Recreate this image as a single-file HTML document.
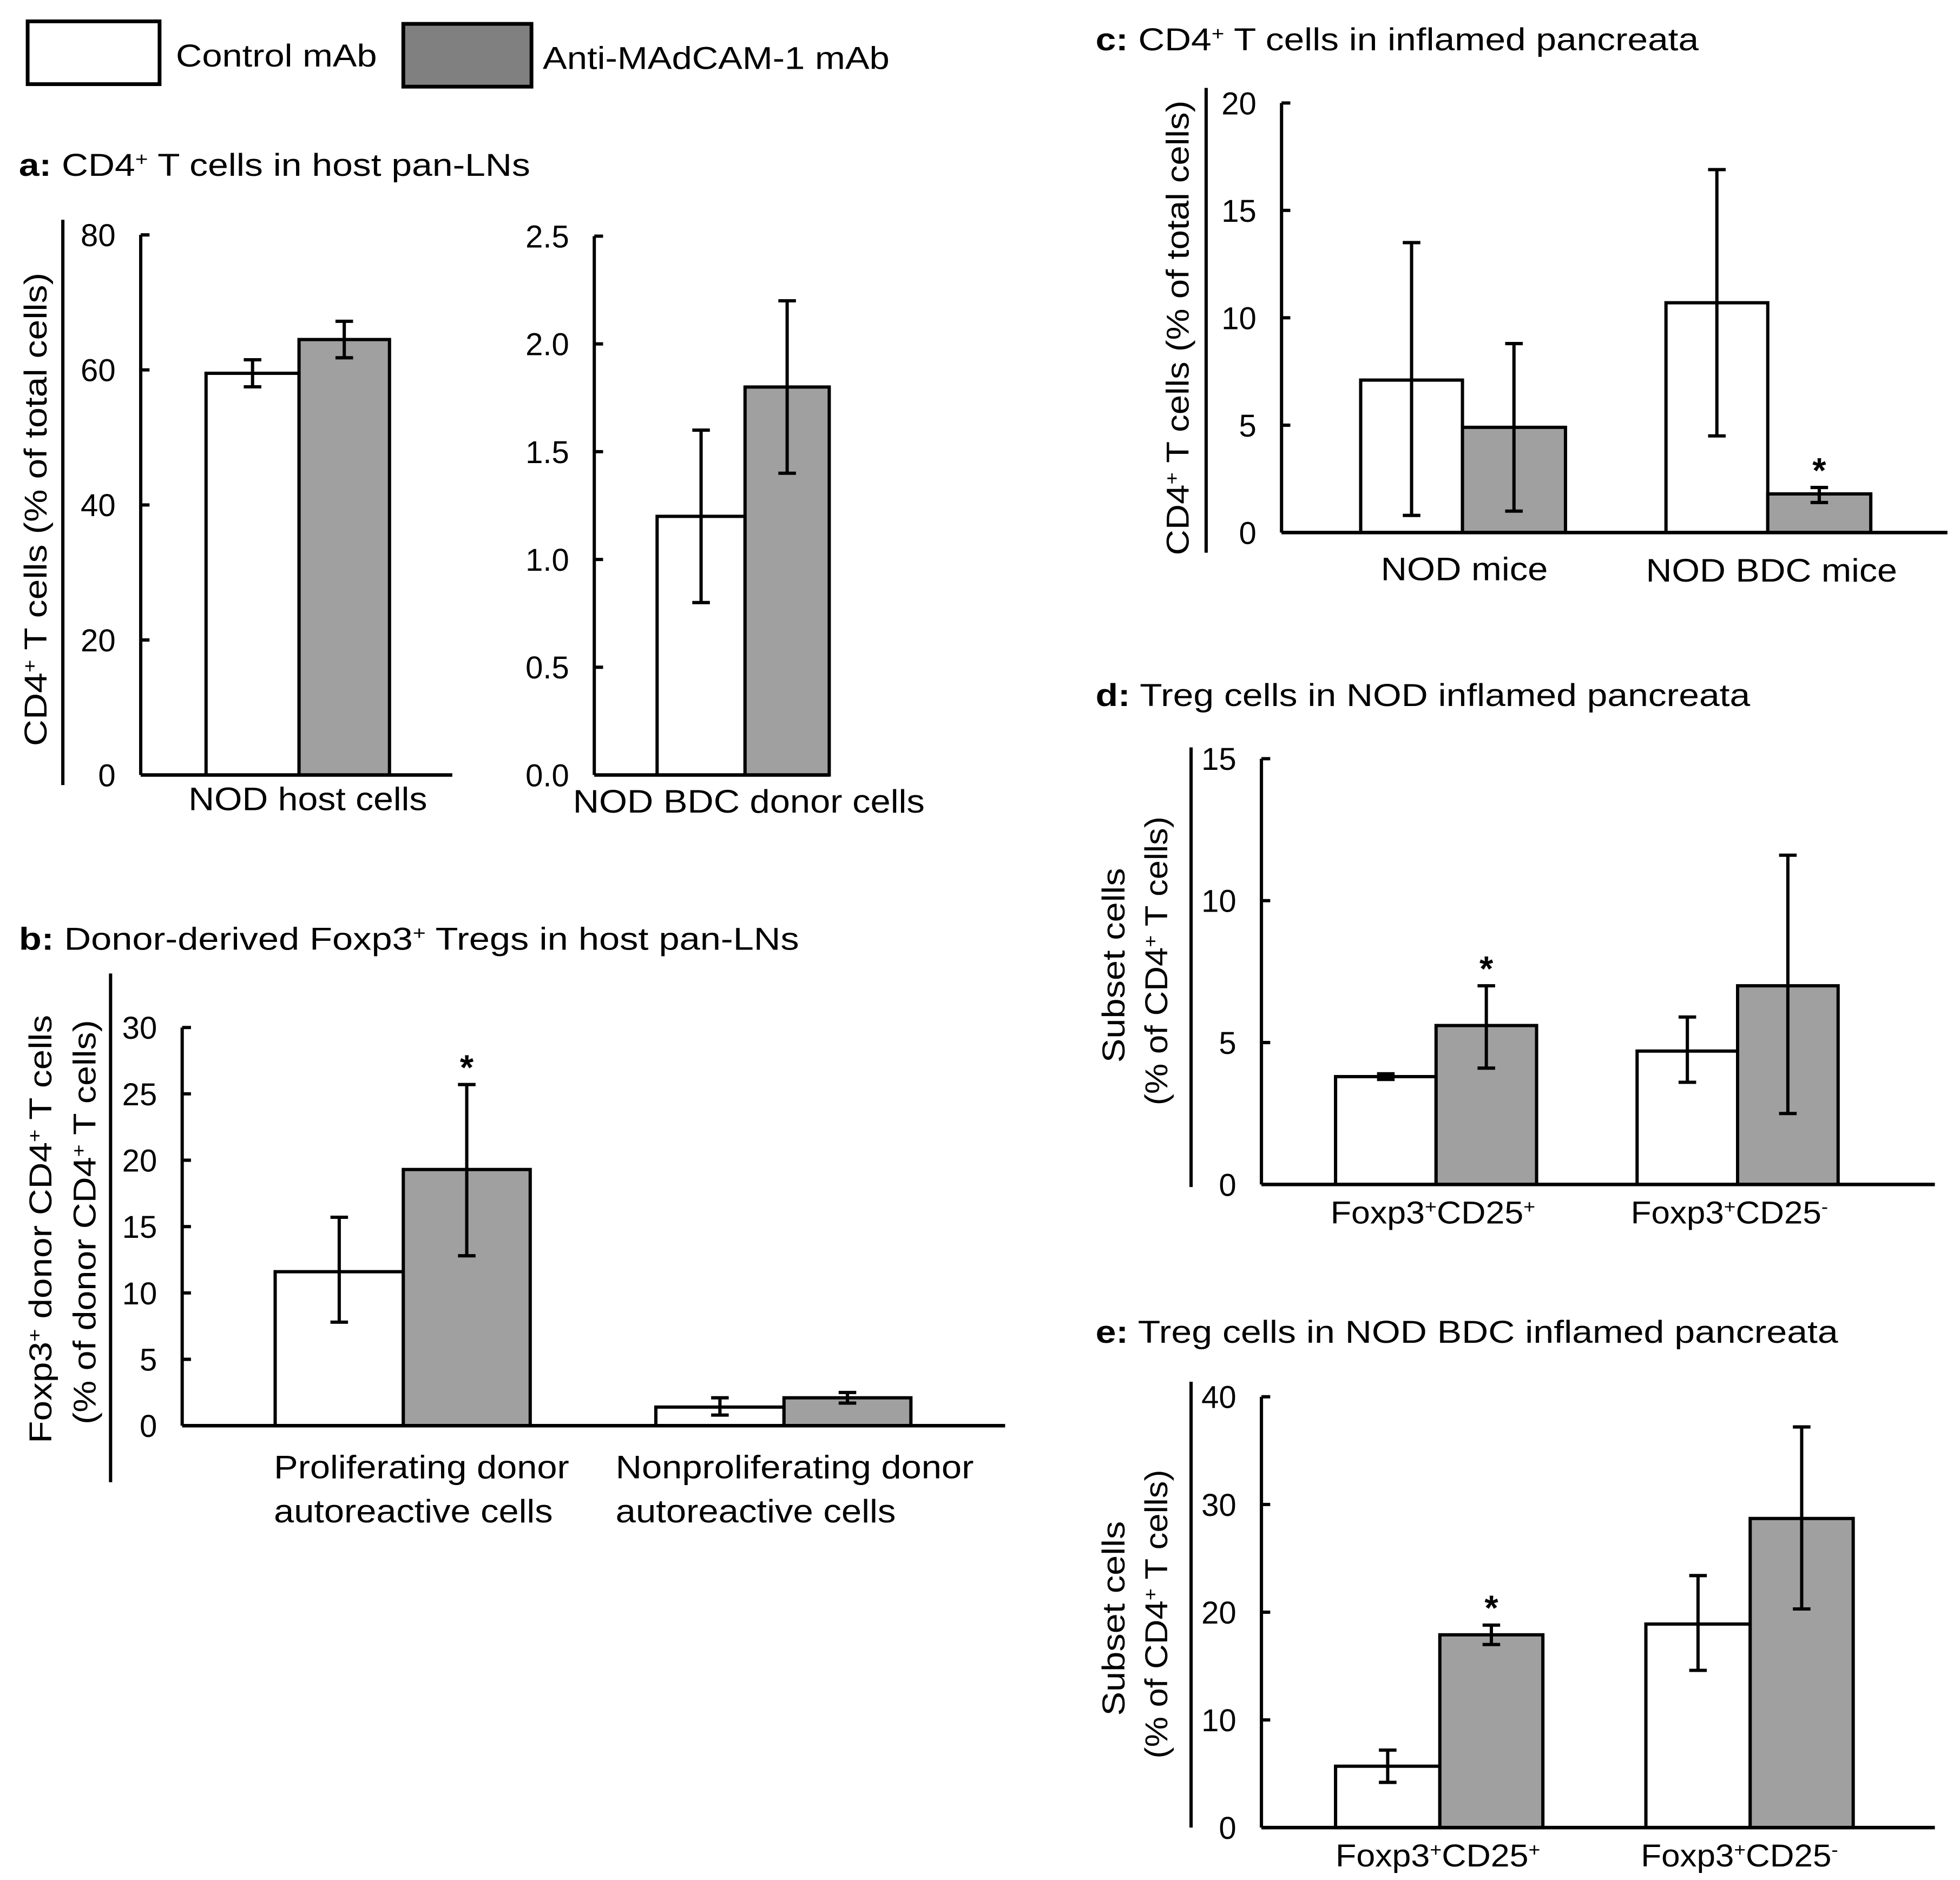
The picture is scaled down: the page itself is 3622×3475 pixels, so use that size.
<!DOCTYPE html>
<html><head><meta charset="utf-8"><style>
html,body{margin:0;padding:0;background:#fff}
svg{display:block}
text{font-family:"Liberation Sans",Arial,sans-serif;fill:#000}
</style></head><body>
<svg id="fig" xmlns="http://www.w3.org/2000/svg" width="3622" height="3475" viewBox="0 0 1560 1496.7">
<rect width="1560" height="1497" fill="#fff"/>
<g>
 <rect x="22" y="17" width="105" height="50" fill="#fff" stroke="#000" stroke-width="3"/>
 <text x="140" y="53" font-size="25" textLength="160" lengthAdjust="spacingAndGlyphs">Control mAb</text>
 <rect x="321" y="19" width="102" height="50" fill="#808080" stroke="#000" stroke-width="3"/>
 <text x="432" y="55" font-size="25" textLength="276" lengthAdjust="spacingAndGlyphs">Anti-MAdCAM-1 mAb</text>
</g>
<g id="plots"></g>
</svg>
<script>
// Panel a1
const a1Cats = ["NOD host cells"];
const a1Ctrl = [59.5], a1CtrlLo = [57.5], a1CtrlHi = [61.5];
const a1Anti = [64.5], a1AntiLo = [61.8], a1AntiHi = [67.2];
const a1Ticks = ["0","20","40","60","80"];
// Panel a2
const a2Cats = ["NOD BDC donor cells"];
const a2Ctrl = [1.2], a2CtrlLo = [0.8], a2CtrlHi = [1.6];
const a2Anti = [1.8], a2AntiLo = [1.4], a2AntiHi = [2.2];
const a2Ticks = ["0.0","0.5","1.0","1.5","2.0","2.5"];
// Panel b
const bCats = [["Proliferating donor","autoreactive cells"],["Nonproliferating donor","autoreactive cells"]];
const bCtrl = [11.6, 1.4], bCtrlLo = [7.8, 0.8], bCtrlHi = [15.7, 2.1];
const bAnti = [19.3, 2.1], bAntiLo = [12.8, 1.7], bAntiHi = [25.7, 2.5];
const bStar = [true, false];
const bTicks = ["0","5","10","15","20","25","30"];
// Panel c
const cCats = ["NOD mice","NOD BDC mice"];
const cCtrl = [7.1, 10.7], cCtrlLo = [0.8, 4.5], cCtrlHi = [13.5, 16.9];
const cAnti = [4.9, 1.8], cAntiLo = [1.0, 1.4], cAntiHi = [8.8, 2.1];
const cStar = [false, true];
const cTicks = ["0","5","10","15","20"];
// Panel d
const dCats = ["CD25+","CD25-"];
const dCtrl = [3.8, 4.7], dCtrlLo = [3.7, 3.6], dCtrlHi = [3.9, 5.9];
const dAnti = [5.6, 7.0], dAntiLo = [4.1, 2.5], dAntiHi = [7.0, 11.6];
const dStar = [true, false];
const dTicks = ["0","5","10","15"];
// Panel e
const eCats = ["CD25+","CD25-"];
const eCtrl = [5.7, 18.9], eCtrlLo = [4.2, 14.6], eCtrlHi = [7.2, 23.4];
const eAnti = [17.9, 28.7], eAntiLo = [17.0, 20.3], eAntiHi = [18.8, 37.2];
const eStar = [true, false];
const eTicks = ["0","10","20","30","40"];

const NS = "http://www.w3.org/2000/svg";
const root = document.getElementById("plots");
function mk(tag, attrs, parent){
  const el = document.createElementNS(NS, tag);
  for (const k in attrs) el.setAttribute(k, attrs[k]);
  (parent||root).appendChild(el);
  return el;
}
function addText(parent, x, y, str, size, opts){
  const t = mk("text", {x:x, y:y, "font-size":size}, parent);
  if (opts && opts.anchor) t.setAttribute("text-anchor", opts.anchor);
  if (opts && opts.len){ t.setAttribute("textLength", opts.len); t.setAttribute("lengthAdjust","spacingAndGlyphs"); }
  if (opts && opts.rot) t.setAttribute("transform", "rotate(-90 "+x+" "+y+")");
  t.textContent = str;
  return t;
}
function supText(parent, x, y, parts, size, opts){
  const t = mk("text", {x:x, y:y, "font-size":size}, parent);
  if (opts && opts.anchor) t.setAttribute("text-anchor", opts.anchor);
  if (opts && opts.len){ t.setAttribute("textLength", opts.len); t.setAttribute("lengthAdjust","spacingAndGlyphs"); }
  if (opts && opts.rot) t.setAttribute("transform", "rotate(-90 "+x+" "+y+")");
  parts.forEach(p=>{
    const s = document.createElementNS(NS,"tspan");
    s.textContent = p[0];
    if (p[1]==="b") s.setAttribute("font-weight","bold");
    if (p[1]==="sup"){ s.setAttribute("baseline-shift","super"); s.setAttribute("font-size", size*0.6); }
    t.appendChild(s);
  });
  return t;
}

function drawChart(cfg, name){
  const g = mk("g", {});
  
  
  const ymax = parseFloat(cfg.ticks[cfg.ticks.length-1]);
  const y = v => cfg.bottom - (v/ymax)*(cfg.bottom-cfg.top);
  const ax = mk("line", {x1:cfg.ax, y1:cfg.top, x2:cfg.ax, y2:cfg.bottom, stroke:"#000","stroke-width":2.6}, g);
  
  
  cfg.ticks.forEach(tk=>{
    const v = parseFloat(tk), yy = y(v);
    mk("line", {x1:cfg.ax, y1:yy, x2:cfg.ax+7, y2:yy, stroke:"#000","stroke-width":2.6}, g);
    const tl = addText(g, cfg.ax-20, yy+9, tk, 25, {anchor:"end"});
    
    
  });
  cfg.ctrl.forEach((v,i)=>{
    const x0 = cfg.groupX[i];
    const w1 = cfg.bw[0], w2 = cfg.bw[1];
    const r1 = mk("rect", {x:x0, y:y(v), width:w1, height:cfg.bottom-y(v), fill:"#fff", stroke:"#000","stroke-width":2.6}, g);
    
    
    const va = cfg.anti[i];
    const r2 = mk("rect", {x:x0+w1, y:y(va), width:w2, height:cfg.bottom-y(va), fill:"#a0a0a0", stroke:"#000","stroke-width":2.6}, g);
    
    
    [[x0+w1/2, cfg.clo[i], cfg.chi[i]],[x0+w1+w2/2, cfg.alo[i], cfg.ahi[i]]].forEach(e=>{
      const eg = mk("path", {d:"M"+e[0]+" "+y(e[1])+"V"+y(e[2])+"M"+(e[0]-7)+" "+y(e[1])+"H"+(e[0]+7)+"M"+(e[0]-7)+" "+y(e[2])+"H"+(e[0]+7), stroke:"#000","stroke-width":2.6, fill:"none"}, g);
      
      
    });
    if (cfg.star && cfg.star[i]){
      const st = addText(g, x0+w1+w2/2, y(cfg.ahi[i])-4, "*", 28, {anchor:"middle"});
      st.setAttribute("font-weight","bold");
      
      
    }
  });
  const xa = mk("line", {x1:cfg.ax, y1:cfg.bottom, x2:cfg.xend, y2:cfg.bottom, stroke:"#000","stroke-width":2.8}, g);
  
  
  return g;
}

function title(x,y,letter,parts,len,name){
  const t = supText(root, x, y, [[letter,"b"]].concat(parts), 25, {len:len});
  
  
}
title(15,140,"a:",[[" CD4",""],["+","sup"],[" T cells in host pan-LNs",""]],407,"panel-a-title");
title(15,756,"b:",[[" Donor-derived Foxp3",""],["+","sup"],[" Tregs in host pan-LNs",""]],621,"panel-b-title");
title(872,40,"c:",[[" CD4",""],["+","sup"],[" T cells in inflamed pancreata",""]],480,"panel-c-title");
title(872,562,"d:",[[" Treg cells in NOD inflamed pancreata",""]],521,"panel-d-title");
title(872,1069,"e:",[[" Treg cells in NOD BDC inflamed pancreata",""]],591,"panel-e-title");

drawChart({ax:112, top:187, bottom:617, xend:360, ticks:a1Ticks, groupX:[164], bw:[74,72],
  ctrl:a1Ctrl, clo:a1CtrlLo, chi:a1CtrlHi, anti:a1Anti, alo:a1AntiLo, ahi:a1AntiHi}, "chart-a-host");
drawChart({ax:473, top:188, bottom:617, xend:660, ticks:a2Ticks, groupX:[523], bw:[70,67],
  ctrl:a2Ctrl, clo:a2CtrlLo, chi:a2CtrlHi, anti:a2Anti, alo:a2AntiLo, ahi:a2AntiHi}, "chart-a-donor");
drawChart({ax:145, top:818, bottom:1135, xend:800, ticks:bTicks, groupX:[219,522], bw:[102,101],
  ctrl:bCtrl, clo:bCtrlLo, chi:bCtrlHi, anti:bAnti, alo:bAntiLo, ahi:bAntiHi, star:bStar}, "chart-b");
drawChart({ax:1020, top:82, bottom:424, xend:1550, ticks:cTicks, groupX:[1083,1326], bw:[81,82],
  ctrl:cCtrl, clo:cCtrlLo, chi:cCtrlHi, anti:cAnti, alo:cAntiLo, ahi:cAntiHi, star:cStar}, "chart-c");
drawChart({ax:1004, top:604, bottom:943, xend:1540, ticks:dTicks, groupX:[1063,1303], bw:[80,80],
  ctrl:dCtrl, clo:dCtrlLo, chi:dCtrlHi, anti:dAnti, alo:dAntiLo, ahi:dAntiHi, star:dStar}, "chart-d");
drawChart({ax:1004, top:1112, bottom:1455, xend:1540, ticks:eTicks, groupX:[1063,1310], bw:[83,82],
  ctrl:eCtrl, clo:eCtrlLo, chi:eCtrlHi, anti:eAnti, alo:eAntiLo, ahi:eAntiHi, star:eStar}, "chart-e");

function cat(x,y,str,len){
  const t = addText(root,x,y,str,26,{len:len});
  
  
}
cat(150,645,a1Cats[0],190);
cat(456,647,a2Cats[0],280);
cat(218,1177,bCats[0][0],235); cat(218,1212,bCats[0][1],222);
cat(490,1177,bCats[1][0],285); cat(490,1212,bCats[1][1],223);
cat(1099,462,cCats[0],133); cat(1310,463,cCats[1],200);
function foxLabel(x,y,sign,len){
  const t = supText(root,x,y,[["Foxp3",""],["+","sup"],["CD25",""],[sign,"sup"]],25,{len:len});
  
  
}
foxLabel(1059,974,"+",163); foxLabel(1298,974,"-",157);
foxLabel(1063,1486,"+",163); foxLabel(1306,1486,"-",157);

function vline(x,y1,y2){
  const l = mk("line",{x1:x,y1:y1,x2:x,y2:y2,stroke:"#000","stroke-width":2.6});
  
  
}
vline(50,175,625); vline(88,775,1180); vline(960,70,440); vline(948,595,945); vline(948,1100,1455);
function ytitle(x,ybot,parts,len,name){
  const t = supText(root,x,ybot,parts,25,{len:len,rot:true});
  
  
}
ytitle(37,594,[["CD4",""],["+","sup"],[" T cells (% of total cells)",""]],377,"y-axis-title-a");
ytitle(41,1149,[["Foxp3",""],["+","sup"],[" donor CD4",""],["+","sup"],[" T cells",""]],341,"y-axis-title-b-line1");
ytitle(76,1134,[["(% of donor CD4",""],["+","sup"],[" T cells)",""]],322,"y-axis-title-b-line2");
ytitle(946,442,[["CD4",""],["+","sup"],[" T cells (% of total cells)",""]],362,"y-axis-title-c");
ytitle(895,846,[["Subset cells",""]],155,"y-axis-title-d-line1");
ytitle(929,880,[["(% of CD4",""],["+","sup"],[" T cells)",""]],230,"y-axis-title-d-line2");
ytitle(895,1366,[["Subset cells",""]],155,"y-axis-title-e-line1");
ytitle(929,1400,[["(% of CD4",""],["+","sup"],[" T cells)",""]],230,"y-axis-title-e-line2");
</script>
</body></html>
